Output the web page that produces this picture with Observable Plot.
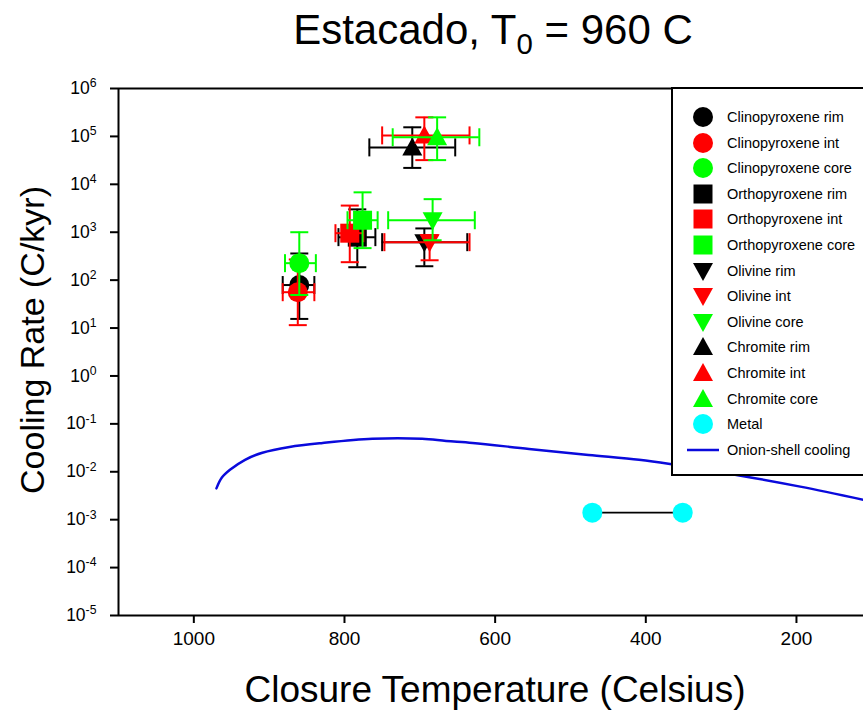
<!DOCTYPE html>
<html>
<head>
<meta charset="utf-8">
<script src="https://cdn.jsdelivr.net/npm/d3@7"></script>
<script src="https://cdn.jsdelivr.net/npm/@observablehq/plot@0.6"></script>
<style>
html, body { margin: 0; padding: 0; background: #fff; overflow: hidden; }
#wrap { position: relative; width: 863px; height: 719px; overflow: hidden; font-family: "Liberation Sans", Arial, sans-serif; color: #000; }
#wrap svg.plot { position: absolute; left: 0; top: 0; }
.title { position: absolute; left: 93px; width: 800px; top: 6px; text-align: center; font-size: 42px; white-space: nowrap; }
.title sub { font-size: 0.7em; vertical-align: -0.35em; line-height: 0; }
.xlabel { position: absolute; left: 495px; top: 690px; transform: translate(-50%, -50%); font-size: 37px; white-space: nowrap; }
.ylabel { position: absolute; left: 32px; top: 340px; transform: translate(-50%, -50%) rotate(-90deg); font-size: 34px; white-space: nowrap; }
.legend { position: absolute; left: 671px; top: 87px; width: 210px; height: 389px; border: 2px solid #000; box-sizing: border-box; background: #fff; }
.legrow { position: absolute; left: 0; height: 24px; display: flex; align-items: center; font-size: 14.5px; white-space: nowrap; }
.legrow svg { display: block; margin-right: 2px; }
</style>
</head>
<body>
<div id="wrap"></div>
<script>
// ---------- data ----------
const seriesNames = [
  "Clinopyroxene rim", "Clinopyroxene int", "Clinopyroxene core",
  "Orthopyroxene rim", "Orthopyroxene int", "Orthopyroxene core",
  "Olivine rim", "Olivine int", "Olivine core",
  "Chromite rim", "Chromite int", "Chromite core"
];
const seriesColors = [
  "#000000", "#ff0000", "#00ff00",
  "#000000", "#ff0000", "#00ff00",
  "#000000", "#ff0000", "#00ff00",
  "#000000", "#ff0000", "#00ff00"
];
const seriesSymbols = [
  "circle", "circle", "circle",
  "square", "square", "square",
  "triDown", "triDown", "triDown",
  "triUp", "triUp", "triUp"
];
// closure temperature (C) and cooling rate (C/kyr)
const closureTemp = [860, 862, 860, 783, 793, 776, 694, 687, 683, 710, 694, 677];
const coolingRate = [79, 56, 226, 790, 955, 1780, 620, 620, 1780, 59000, 105000, 96000];
const tempHigh = [882, 882, 879, 808, 812, 796, 750, 747, 742, 767, 750, 736];
const tempLow  = [840, 840, 838, 759, 775, 756, 637, 634, 627, 653, 634, 621];
const rateLow  = [15.5, 11.5, 49, 186, 237, 466, 195, 260, 680, 22000, 32000, 32000];
const rateHigh = [360, 270, 1000, 3000, 3600, 6800, 1200, 870, 4900, 155000, 250000, 250000];

const metalTemp = [471, 351];
const metalRate = [0.0014, 0.0014];

const onionTemp = [970, 963, 952, 932, 909, 873, 829, 763, 697, 665, 630, 555, 476, 409, 370, 274, 195, 111];
const onionRate = [0.0045, 0.0075, 0.011, 0.0178, 0.025, 0.033, 0.040, 0.049, 0.049, 0.044, 0.040, 0.030, 0.0225, 0.0178, 0.0147, 0.0083, 0.0049, 0.0026];

const xTicks = [1000, 800, 600, 400, 200];
const yTicks = [1e-5, 1e-4, 1e-3, 1e-2, 1e-1, 1e0, 1e1, 1e2, 1e3, 1e4, 1e5, 1e6];

const titleText = "Estacado, T";
const titleSub = "0";
const titleRest = " = 960 C";
const xTitle = "Closure Temperature (Celsius)";
const yTitle = "Cooling Rate (C/kyr)";
const metalName = "Metal";
const onionName = "Onion-shell cooling";

// ---------- symbols ----------
const R = size => Math.sqrt(size / Math.PI);
const symbols = {
  circle: { draw(c, s) { const r = R(s); c.moveTo(r, 0); c.arc(0, 0, r, 0, 2 * Math.PI); c.closePath(); } },
  square: { draw(c, s) { const r = R(s) * 0.95; c.moveTo(-r, -r); c.lineTo(r, -r); c.lineTo(r, r); c.lineTo(-r, r); c.closePath(); } },
  triUp: { draw(c, s) { const r = R(s); c.moveTo(0, -r); c.lineTo(r, r * 0.8); c.lineTo(-r, r * 0.8); c.closePath(); } },
  triDown: { draw(c, s) { const r = R(s); c.moveTo(0, r); c.lineTo(r, -r * 0.8); c.lineTo(-r, -r * 0.8); c.closePath(); } },
  hcap: { draw(c, s) { const r = R(s); c.moveTo(-r, 0); c.lineTo(r, 0); } },
  vcap: { draw(c, s) { const r = R(s); c.moveTo(0, -r); c.lineTo(0, r); } }
};

// ---------- tables ----------
const rows = seriesNames.map((name, i) => ({
  name, color: seriesColors[i], sym: seriesSymbols[i],
  t: closureTemp[i], r: coolingRate[i],
  t1: tempLow[i], t2: tempHigh[i], r1: rateLow[i], r2: rateHigh[i]
}));
const metal = metalTemp.map((t, i) => ({ t, r: metalRate[i] }));
const onion = onionTemp.map((t, i) => ({ t, r: onionRate[i] }));

const MARKER_R = 10, CAP_R = 9, ERR_W = 2;

const marks = [
  Plot.ruleX([1100], { stroke: "#000", strokeWidth: 2 }),
  Plot.ruleY([1e-5], { stroke: "#000", strokeWidth: 2 }),
  Plot.ruleY([1e6], { stroke: "#000", strokeWidth: 2 }),
  Plot.axisX({ ticks: xTicks, tickSize: 8, tickPadding: 8, fontSize: 19, label: null, strokeWidth: 2,
    tickFormat: d => String(d) }),
  Plot.axisY({ ticks: yTicks, tickSize: 8, tickPadding: 14, fontSize: 17.5, label: null, strokeWidth: 2,
    tickFormat: d => "10|" + Math.round(Math.log10(d)) }),
  Plot.line(onion, { x: "t", y: "r", stroke: "#0a0adc", strokeWidth: 2.5, curve: "catmull-rom" }),
  Plot.line(metal, { x: "t", y: "r", stroke: "#000", strokeWidth: 1.8 }),
  Plot.dot(metal, { x: "t", y: "r", r: MARKER_R, symbol: symbols.circle, fill: "#00ffff", stroke: "none" })
];

for (const d of rows) {
  const data = [d];
  marks.push(
    Plot.ruleX(data, { x: "t", y1: "r1", y2: "r2", stroke: d.color, strokeWidth: ERR_W }),
    Plot.ruleY(data, { y: "r", x1: "t1", x2: "t2", stroke: d.color, strokeWidth: ERR_W }),
    Plot.dot(data, { x: "t", y: "r1", r: CAP_R, symbol: symbols.hcap, fill: "none", stroke: d.color, strokeWidth: ERR_W }),
    Plot.dot(data, { x: "t", y: "r2", r: CAP_R, symbol: symbols.hcap, fill: "none", stroke: d.color, strokeWidth: ERR_W }),
    Plot.dot(data, { x: "t1", y: "r", r: CAP_R, symbol: symbols.vcap, fill: "none", stroke: d.color, strokeWidth: ERR_W }),
    Plot.dot(data, { x: "t2", y: "r", r: CAP_R, symbol: symbols.vcap, fill: "none", stroke: d.color, strokeWidth: ERR_W }),
    Plot.dot(data, { x: "t", y: "r", r: MARKER_R, symbol: symbols[d.sym], fill: d.color, stroke: "none" })
  );
}

const chart = Plot.plot({
  width: 863, height: 719,
  marginTop: 88, marginBottom: 104, marginLeft: 118, marginRight: 0,
  style: { fontFamily: "'Liberation Sans', Arial, sans-serif", background: "transparent", color: "#000" },
  x: { domain: [1100, 111] },
  y: { type: "log", domain: [1e-5, 1e6] },
  marks
});
chart.classList.add("plot");

// superscript exponents on y tick labels
d3.select(chart).selectAll('g[aria-label="y-axis tick label"] text').each(function () {
  const s = this.textContent;
  if (s.includes("|")) {
    const [b, e] = s.split("|");
    const t = d3.select(this);
    t.text(b);
    t.append("tspan").attr("dy", "-0.55em").attr("font-size", "0.7em").text(e);
  }
});

const wrap = document.getElementById("wrap");
wrap.appendChild(chart);

// title & axis titles
const title = document.createElement("div");
title.className = "title";
title.append(titleText);
const sub = document.createElement("sub"); sub.textContent = titleSub; title.append(sub);
title.append(titleRest);
wrap.appendChild(title);

const xl = document.createElement("div"); xl.className = "xlabel"; xl.textContent = xTitle; wrap.appendChild(xl);
const yl = document.createElement("div"); yl.className = "ylabel"; yl.textContent = yTitle; wrap.appendChild(yl);

// legend
const legend = document.createElement("div");
legend.className = "legend";
wrap.appendChild(legend);
const legItems = rows.map(d => ({ name: d.name, color: d.color, sym: d.sym }))
  .concat([{ name: metalName, color: "#00ffff", sym: "circle" }, { name: onionName, color: "#0a0adc", sym: "line" }]);
legItems.forEach((it, i) => {
  const row = document.createElement("div");
  row.className = "legrow";
  row.style.top = (117 + i * 25.6 - 87 - 2 - 12) + "px";
  row.style.left = (703 - 671 - 2 - 20) + "px";
  const svg = d3.create("svg").attr("width", 40).attr("height", 24);
  if (it.sym === "line") {
    svg.append("line").attr("x1", 4).attr("x2", 36).attr("y1", 12).attr("y2", 12)
      .attr("stroke", it.color).attr("stroke-width", 2.5);
  } else {
    svg.append("path").attr("transform", "translate(20,12)")
      .attr("d", d3.symbol(symbols[it.sym], Math.PI * MARKER_R * MARKER_R)())
      .attr("fill", it.color);
  }
  row.appendChild(svg.node());
  const span = document.createElement("span");
  span.textContent = it.name;
  span.style.marginLeft = "2px";
  row.appendChild(span);
  legend.appendChild(row);
});
</script>
</body>
</html>
